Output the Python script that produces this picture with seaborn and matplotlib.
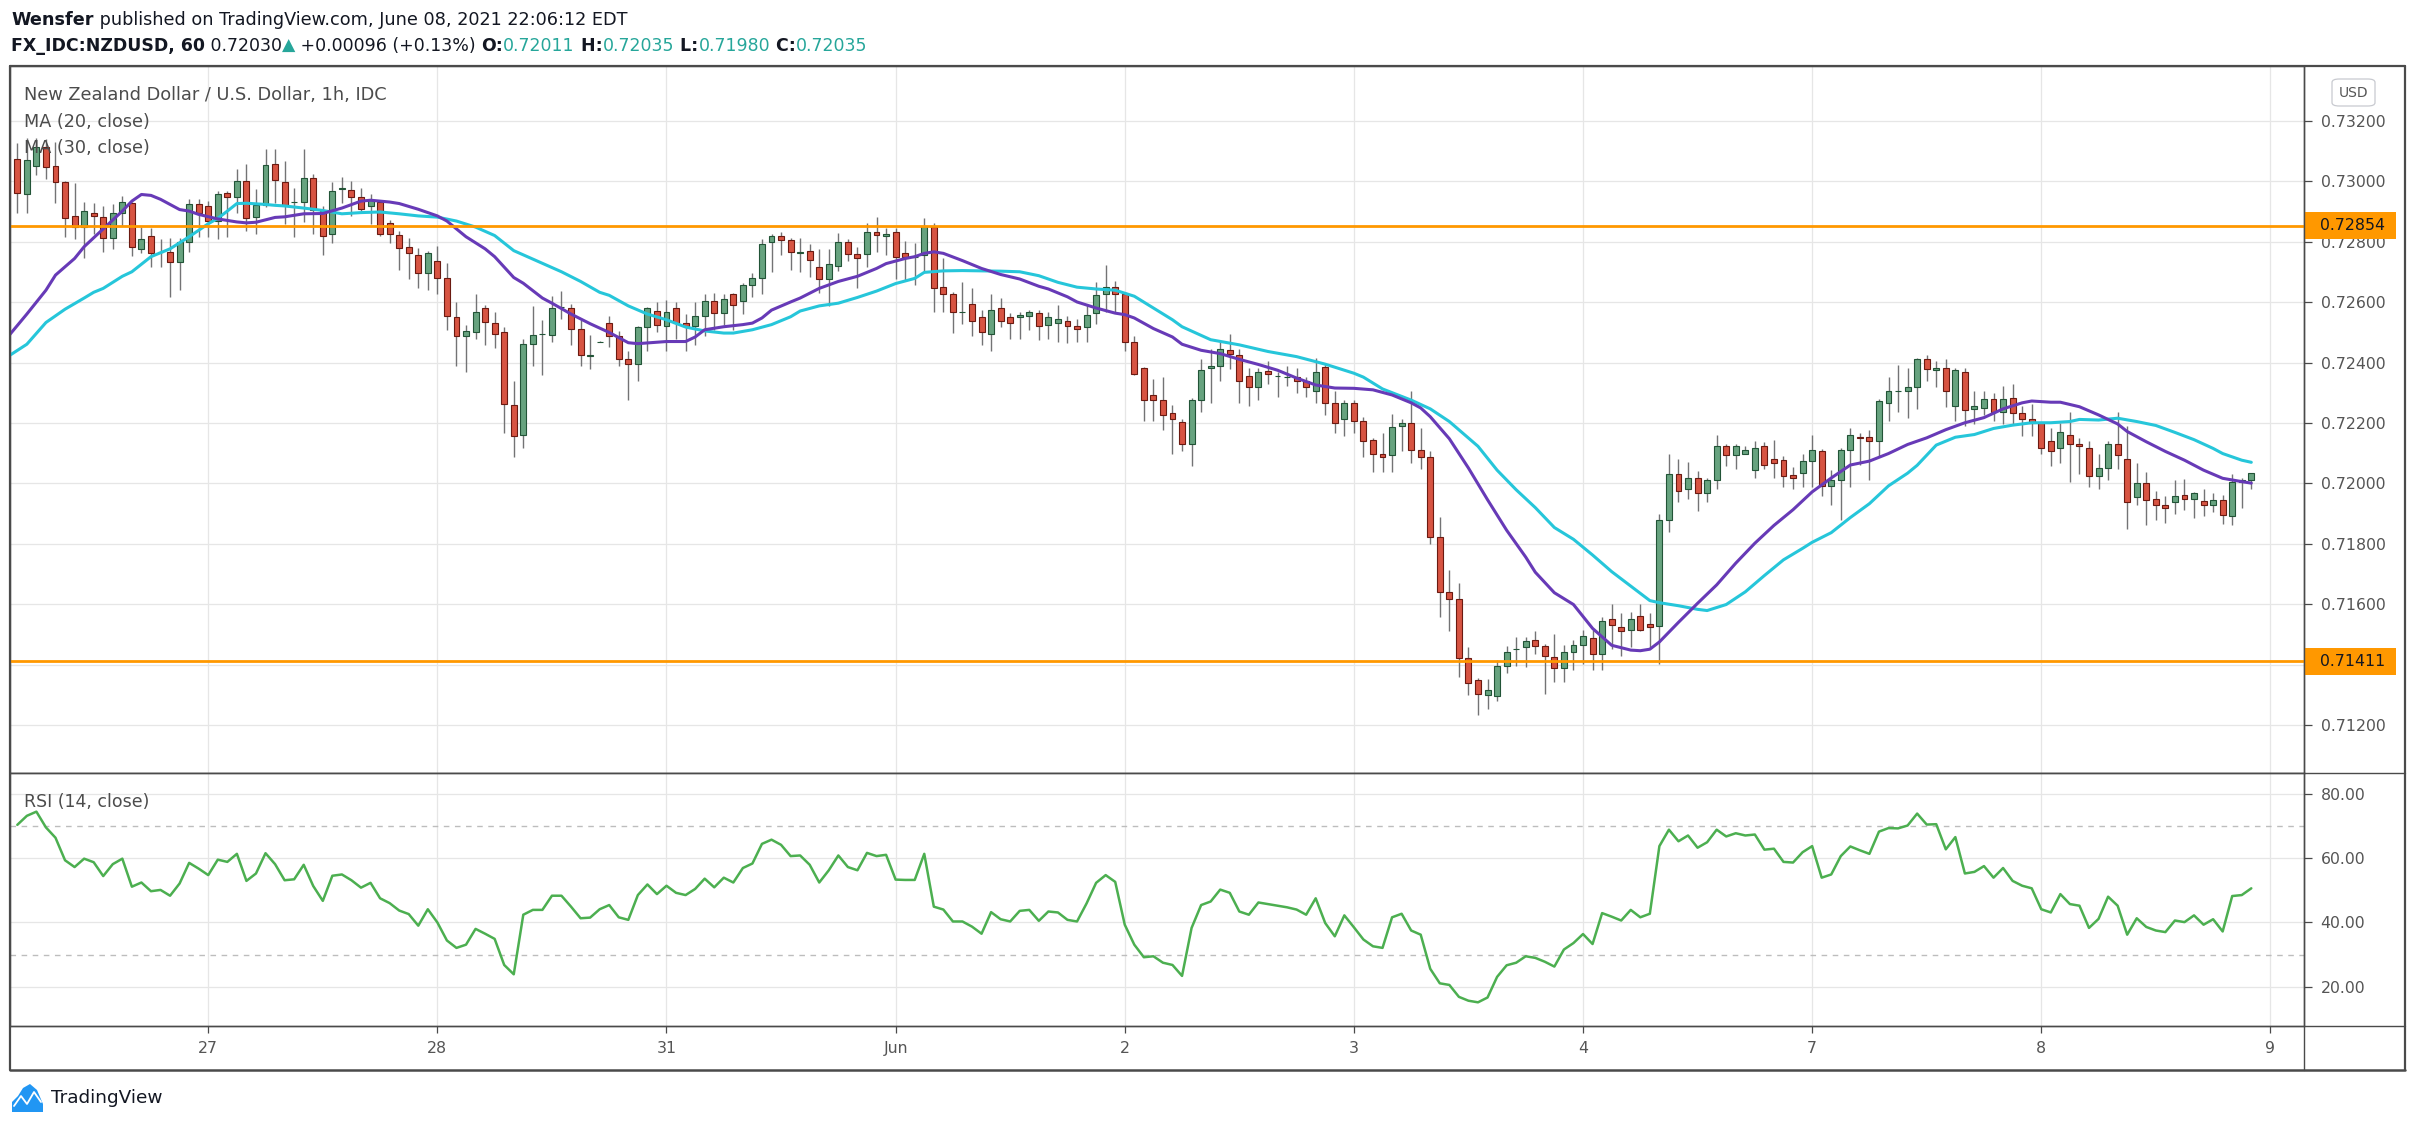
import numpy as np
import pandas as pd
import matplotlib
matplotlib.use("Agg")
import matplotlib.pyplot as plt
import seaborn as sns
from matplotlib.patches import Rectangle, FancyBboxPatch, Polygon
from matplotlib.lines import Line2D

# ---------------- data ----------------
opens = [
 0.73076, 0.72957, 0.73050, 0.73114, 0.73052, 0.72997, 0.72885, 0.72848, 0.72894, 0.72883,
 0.72814, 0.72894, 0.72928, 0.72777, 0.72818, 0.72767, 0.72767, 0.72732, 0.72801, 0.72924,
 0.72918, 0.72868, 0.72961, 0.72950, 0.73000, 0.72881, 0.72921, 0.73059, 0.72997, 0.72931,
 0.72931, 0.73012, 0.72903, 0.72825, 0.72974, 0.72973, 0.72950, 0.72918, 0.72933, 0.72861,
 0.72823, 0.72784, 0.72758, 0.72696, 0.72738, 0.72682, 0.72550, 0.72487, 0.72500, 0.72580,
 0.72533, 0.72502, 0.72261, 0.72161, 0.72461, 0.72496, 0.72493, 0.72585, 0.72582, 0.72513,
 0.72421, 0.72470, 0.72530, 0.72489, 0.72413, 0.72396, 0.72517, 0.72572, 0.72520, 0.72580,
 0.72533, 0.72520, 0.72556, 0.72603, 0.72565, 0.72627, 0.72603, 0.72656, 0.72682, 0.72801,
 0.72821, 0.72805, 0.72762, 0.72771, 0.72718, 0.72678, 0.72721, 0.72801, 0.72760, 0.72760,
 0.72834, 0.72818, 0.72834, 0.72764, 0.72749, 0.72758, 0.72848, 0.72649, 0.72629, 0.72569,
 0.72593, 0.72552, 0.72496, 0.72580, 0.72550, 0.72550, 0.72556, 0.72565, 0.72526, 0.72530,
 0.72539, 0.72520, 0.72517, 0.72563, 0.72626, 0.72649, 0.72627, 0.72470, 0.72381, 0.72294,
 0.72277, 0.72234, 0.72205, 0.72129, 0.72277, 0.72383, 0.72390, 0.72443, 0.72426, 0.72357,
 0.72320, 0.72374, 0.72357, 0.72351, 0.72354, 0.72340, 0.72307, 0.72387, 0.72268, 0.72212,
 0.72268, 0.72208, 0.72145, 0.72099, 0.72093, 0.72189, 0.72199, 0.72112, 0.72086, 0.71822,
 0.71640, 0.71616, 0.71423, 0.71350, 0.71299, 0.71295, 0.71395, 0.71451, 0.71458, 0.71480,
 0.71461, 0.71425, 0.71388, 0.71441, 0.71464, 0.71488, 0.71434, 0.71550, 0.71526, 0.71514,
 0.71561, 0.71534, 0.71527, 0.71880, 0.72030, 0.71980, 0.72019, 0.71969, 0.72013, 0.72123,
 0.72093, 0.72099, 0.72043, 0.72123, 0.72082, 0.72076, 0.72027, 0.72034, 0.72073, 0.72106,
 0.71993, 0.72010, 0.72110, 0.72155, 0.72153, 0.72140, 0.72268, 0.72307, 0.72305, 0.72320,
 0.72413, 0.72377, 0.72383, 0.72258, 0.72370, 0.72248, 0.72251, 0.72281, 0.72238, 0.72284,
 0.72234, 0.72212, 0.72201, 0.72142, 0.72116, 0.72162, 0.72129, 0.72119, 0.72023, 0.72052,
 0.72129, 0.72080, 0.71956, 0.72002, 0.71950, 0.71930, 0.71937, 0.71963, 0.71950, 0.71943,
 0.71930, 0.71946, 0.71892, 0.72006, 0.72011]

highs = [
 0.73128, 0.73144, 0.73144, 0.73140, 0.73130, 0.73000, 0.72995, 0.72932, 0.72928, 0.72919,
 0.72925, 0.72952, 0.72931, 0.72849, 0.72845, 0.72810, 0.72814, 0.72814, 0.72941, 0.72941,
 0.72935, 0.72970, 0.72970, 0.73041, 0.73058, 0.72974, 0.73109, 0.73109, 0.73067, 0.72980,
 0.73109, 0.73024, 0.72918, 0.72997, 0.73014, 0.73000, 0.72978, 0.72958, 0.72935, 0.72874,
 0.72836, 0.72814, 0.72781, 0.72771, 0.72788, 0.72729, 0.72601, 0.72525, 0.72627, 0.72590,
 0.72569, 0.72517, 0.72339, 0.72480, 0.72588, 0.72540, 0.72620, 0.72637, 0.72593, 0.72540,
 0.72491, 0.72472, 0.72553, 0.72506, 0.72440, 0.72523, 0.72584, 0.72601, 0.72607, 0.72601,
 0.72560, 0.72601, 0.72627, 0.72631, 0.72627, 0.72631, 0.72663, 0.72696, 0.72808, 0.72825,
 0.72834, 0.72814, 0.72814, 0.72794, 0.72777, 0.72777, 0.72831, 0.72808, 0.72784, 0.72864,
 0.72883, 0.72845, 0.72845, 0.72804, 0.72797, 0.72878, 0.72863, 0.72745, 0.72633, 0.72666,
 0.72646, 0.72573, 0.72627, 0.72614, 0.72563, 0.72567, 0.72576, 0.72576, 0.72567, 0.72590,
 0.72553, 0.72543, 0.72593, 0.72666, 0.72722, 0.72670, 0.72633, 0.72487, 0.72385, 0.72345,
 0.72352, 0.72261, 0.72214, 0.72282, 0.72412, 0.72446, 0.72467, 0.72495, 0.72446, 0.72383,
 0.72383, 0.72406, 0.72370, 0.72390, 0.72383, 0.72351, 0.72417, 0.72400, 0.72305, 0.72277,
 0.72277, 0.72221, 0.72152, 0.72166, 0.72231, 0.72214, 0.72305, 0.72182, 0.72108, 0.71888,
 0.71713, 0.71669, 0.71458, 0.71357, 0.71353, 0.71414, 0.71461, 0.71492, 0.71492, 0.71510,
 0.71468, 0.71501, 0.71464, 0.71481, 0.71514, 0.71514, 0.71557, 0.71600, 0.71570, 0.71574,
 0.71600, 0.71570, 0.71900, 0.72096, 0.72081, 0.72070, 0.72040, 0.72019, 0.72159, 0.72129,
 0.72129, 0.72123, 0.72140, 0.72136, 0.72144, 0.72090, 0.72056, 0.72099, 0.72159, 0.72114,
 0.72045, 0.72116, 0.72183, 0.72166, 0.72176, 0.72279, 0.72352, 0.72391, 0.72383, 0.72417,
 0.72425, 0.72406, 0.72413, 0.72381, 0.72381, 0.72307, 0.72307, 0.72301, 0.72322, 0.72328,
 0.72258, 0.72264, 0.72202, 0.72182, 0.72201, 0.72238, 0.72152, 0.72140, 0.72096, 0.72140,
 0.72238, 0.72189, 0.72069, 0.72039, 0.71976, 0.71959, 0.72012, 0.72016, 0.71970, 0.71983,
 0.71969, 0.71962, 0.72032, 0.72019, 0.72035]

lows = [
 0.72897, 0.72897, 0.73020, 0.73009, 0.72929, 0.72817, 0.72808, 0.72747, 0.72827, 0.72767,
 0.72777, 0.72852, 0.72754, 0.72764, 0.72717, 0.72717, 0.72618, 0.72639, 0.72767, 0.72817,
 0.72817, 0.72808, 0.72817, 0.72897, 0.72836, 0.72827, 0.72915, 0.72928, 0.72860, 0.72817,
 0.72866, 0.72827, 0.72758, 0.72797, 0.72928, 0.72887, 0.72903, 0.72860, 0.72820, 0.72797,
 0.72708, 0.72678, 0.72648, 0.72639, 0.72629, 0.72509, 0.72390, 0.72370, 0.72479, 0.72459,
 0.72449, 0.72167, 0.72089, 0.72117, 0.72390, 0.72360, 0.72470, 0.72546, 0.72459, 0.72390,
 0.72379, 0.72468, 0.72453, 0.72390, 0.72277, 0.72340, 0.72440, 0.72500, 0.72440, 0.72479,
 0.72440, 0.72459, 0.72489, 0.72509, 0.72526, 0.72509, 0.72560, 0.72618, 0.72629, 0.72699,
 0.72758, 0.72708, 0.72701, 0.72684, 0.72632, 0.72586, 0.72704, 0.72738, 0.72648, 0.72717,
 0.72767, 0.72758, 0.72678, 0.72669, 0.72658, 0.72704, 0.72568, 0.72568, 0.72498, 0.72529,
 0.72489, 0.72459, 0.72440, 0.72519, 0.72479, 0.72479, 0.72509, 0.72476, 0.72479, 0.72470,
 0.72466, 0.72470, 0.72470, 0.72529, 0.72569, 0.72569, 0.72440, 0.72360, 0.72208, 0.72208,
 0.72178, 0.72099, 0.72108, 0.72059, 0.72238, 0.72267, 0.72340, 0.72379, 0.72267, 0.72258,
 0.72277, 0.72330, 0.72286, 0.72323, 0.72301, 0.72286, 0.72267, 0.72227, 0.72167, 0.72158,
 0.72167, 0.72089, 0.72039, 0.72039, 0.72039, 0.72108, 0.72069, 0.72048, 0.71801, 0.71558,
 0.71510, 0.71359, 0.71299, 0.71232, 0.71252, 0.71278, 0.71372, 0.71395, 0.71391, 0.71435,
 0.71302, 0.71341, 0.71341, 0.71382, 0.71401, 0.71382, 0.71382, 0.71451, 0.71429, 0.71458,
 0.71510, 0.71456, 0.71401, 0.71840, 0.71940, 0.71950, 0.71909, 0.71940, 0.71980, 0.72059,
 0.72048, 0.72096, 0.72019, 0.72049, 0.72019, 0.71989, 0.71980, 0.71989, 0.71989, 0.71959,
 0.71929, 0.71880, 0.71989, 0.72060, 0.72010, 0.72090, 0.72208, 0.72238, 0.72218, 0.72247,
 0.72340, 0.72320, 0.72254, 0.72208, 0.72191, 0.72197, 0.72227, 0.72208, 0.72197, 0.72197,
 0.72158, 0.72158, 0.72099, 0.72059, 0.72069, 0.72006, 0.72030, 0.71989, 0.71980, 0.72010,
 0.72049, 0.71850, 0.71929, 0.71861, 0.71880, 0.71870, 0.71900, 0.71913, 0.71887, 0.71891,
 0.71907, 0.71867, 0.71861, 0.71920, 0.71980]

closes = [
 0.72963, 0.73072, 0.73114, 0.73047, 0.72997, 0.72878, 0.72848, 0.72903, 0.72887, 0.72814,
 0.72894, 0.72931, 0.72784, 0.72811, 0.72762, 0.72767, 0.72735, 0.72801, 0.72924, 0.72897,
 0.72868, 0.72957, 0.72950, 0.73000, 0.72878, 0.72921, 0.73056, 0.73004, 0.72921, 0.72931,
 0.73012, 0.72904, 0.72818, 0.72970, 0.72980, 0.72950, 0.72910, 0.72938, 0.72827, 0.72827,
 0.72781, 0.72762, 0.72696, 0.72762, 0.72682, 0.72553, 0.72489, 0.72506, 0.72569, 0.72534,
 0.72496, 0.72264, 0.72158, 0.72463, 0.72493, 0.72496, 0.72580, 0.72585, 0.72513, 0.72424,
 0.72426, 0.72470, 0.72489, 0.72413, 0.72396, 0.72517, 0.72580, 0.72526, 0.72569, 0.72533,
 0.72520, 0.72553, 0.72603, 0.72563, 0.72610, 0.72590, 0.72656, 0.72682, 0.72794, 0.72821,
 0.72805, 0.72768, 0.72768, 0.72741, 0.72678, 0.72728, 0.72801, 0.72760, 0.72747, 0.72834,
 0.72823, 0.72827, 0.72749, 0.72749, 0.72751, 0.72851, 0.72646, 0.72629, 0.72569, 0.72569,
 0.72539, 0.72500, 0.72576, 0.72539, 0.72530, 0.72559, 0.72567, 0.72523, 0.72550, 0.72543,
 0.72520, 0.72513, 0.72559, 0.72623, 0.72649, 0.72629, 0.72470, 0.72361, 0.72275, 0.72277,
 0.72227, 0.72214, 0.72129, 0.72277, 0.72377, 0.72390, 0.72446, 0.72430, 0.72340, 0.72320,
 0.72370, 0.72364, 0.72357, 0.72351, 0.72340, 0.72320, 0.72370, 0.72268, 0.72199, 0.72268,
 0.72208, 0.72140, 0.72099, 0.72086, 0.72186, 0.72199, 0.72112, 0.72086, 0.71822, 0.71642,
 0.71616, 0.71421, 0.71338, 0.71302, 0.71317, 0.71395, 0.71441, 0.71451, 0.71477, 0.71461,
 0.71427, 0.71388, 0.71441, 0.71464, 0.71494, 0.71434, 0.71545, 0.71531, 0.71510, 0.71550,
 0.71514, 0.71526, 0.71880, 0.72030, 0.71976, 0.72019, 0.71969, 0.72010, 0.72123, 0.72093,
 0.72123, 0.72110, 0.72119, 0.72060, 0.72069, 0.72023, 0.72019, 0.72073, 0.72110, 0.71993,
 0.72010, 0.72110, 0.72162, 0.72149, 0.72140, 0.72272, 0.72305, 0.72307, 0.72320, 0.72411,
 0.72378, 0.72383, 0.72307, 0.72377, 0.72244, 0.72255, 0.72281, 0.72238, 0.72281, 0.72234,
 0.72214, 0.72201, 0.72119, 0.72106, 0.72169, 0.72129, 0.72123, 0.72023, 0.72052, 0.72129,
 0.72093, 0.71940, 0.72002, 0.71946, 0.71930, 0.71920, 0.71960, 0.71950, 0.71969, 0.71930,
 0.71946, 0.71896, 0.72006, 0.72013, 0.72035]

# moving-average lines, read at sample bars
ma20_bars = [-1, 1, 3, 4, 6, 7, 9, 11, 12, 13, 14, 15, 16, 17, 18, 19, 21, 23, 24, 25, 27, 28, 30, 32,
             34, 36, 37, 39, 40, 42, 44, 45, 47, 49, 50, 52, 53, 55, 56, 58, 60, 62, 64, 65, 68, 70,
             71, 72, 74, 76, 77, 78, 79, 81, 82, 84, 86, 88, 90, 91, 93, 94, 95, 96, 97, 99, 101,
             103, 105, 107, 108, 110, 111, 113, 115, 116, 117, 119, 121, 122, 124, 126, 128, 130,
             132, 134, 136, 138, 140, 142, 144, 146, 147, 148, 150, 152, 154, 156, 158, 159, 161,
             163, 165, 167, 169, 170, 171, 172, 174, 176, 178, 180, 182, 184, 186, 188, 190, 192,
             194, 196, 198, 200, 202, 204, 206, 208, 210, 211, 213, 214, 216, 218, 220, 221, 223,
             225, 227, 229, 231, 233, 234]
ma20_vals = [0.72485, 0.72561, 0.72640, 0.72690, 0.72745, 0.72784, 0.72843, 0.72902, 0.72935, 0.72957,
             0.72954, 0.72941, 0.72924, 0.72907, 0.72902, 0.72891, 0.72876, 0.72866, 0.72863, 0.72865,
             0.72881, 0.72883, 0.72893, 0.72894, 0.72912, 0.72935, 0.72938, 0.72932, 0.72927, 0.72908,
             0.72886, 0.72869, 0.72817, 0.72777, 0.72751, 0.72682, 0.72663, 0.72614, 0.72597, 0.72561,
             0.72529, 0.72500, 0.72466, 0.72463, 0.72470, 0.72470, 0.72485, 0.72509, 0.72519, 0.72526,
             0.72531, 0.72548, 0.72574, 0.72601, 0.72614, 0.72646, 0.72669, 0.72686, 0.72712, 0.72728,
             0.72745, 0.72751, 0.72762, 0.72767, 0.72762, 0.72738, 0.72712, 0.72692, 0.72677, 0.72653,
             0.72644, 0.72618, 0.72601, 0.72581, 0.72564, 0.72559, 0.72548, 0.72513, 0.72485, 0.72461,
             0.72441, 0.72430, 0.72411, 0.72394, 0.72375, 0.72349, 0.72326, 0.72316, 0.72315, 0.72310,
             0.72293, 0.72267, 0.72250, 0.72221, 0.72148, 0.72051, 0.71946, 0.71845, 0.71756, 0.71706,
             0.71638, 0.71599, 0.71520, 0.71464, 0.71448, 0.71446, 0.71451, 0.71475, 0.71540, 0.71603,
             0.71664, 0.71736, 0.71802, 0.71861, 0.71913, 0.71972, 0.72018, 0.72061, 0.72074, 0.72099,
             0.72129, 0.72151, 0.72178, 0.72201, 0.72218, 0.72247, 0.72267, 0.72273, 0.72269, 0.72269,
             0.72254, 0.72227, 0.72197, 0.72172, 0.72138, 0.72106, 0.72077, 0.72044, 0.72017, 0.72006,
             0.72001]
ma30_bars = [-1, 1, 3, 5, 7, 8, 9, 11, 12, 14, 16, 18, 20, 21, 22, 23, 24, 26, 27, 28, 30, 32, 34, 36,
             38, 40, 42, 44, 46, 48, 50, 52, 55, 57, 59, 61, 62, 64, 66, 68, 70, 72, 74, 75, 77, 79,
             81, 82, 84, 86, 88, 90, 92, 94, 95, 97, 99, 101, 103, 105, 107, 109, 111, 113, 115, 117,
             119, 121, 122, 125, 128, 131, 134, 137, 140, 141, 143, 146, 148, 150, 153, 155, 157, 159,
             161, 163, 165, 167, 169, 171, 172, 174, 176, 177, 179, 181, 183, 185, 187, 188, 190, 192,
             194, 196, 198, 199, 201, 203, 205, 207, 209, 211, 213, 215, 216, 218, 220, 222, 224, 226,
             228, 230, 231, 233, 234]
ma30_vals = [0.72420, 0.72461, 0.72533, 0.72577, 0.72614, 0.72633, 0.72646, 0.72686, 0.72701, 0.72751,
             0.72777, 0.72817, 0.72860, 0.72878, 0.72902, 0.72927, 0.72928, 0.72924, 0.72921, 0.72919,
             0.72912, 0.72904, 0.72893, 0.72897, 0.72899, 0.72893, 0.72886, 0.72882, 0.72869, 0.72849,
             0.72821, 0.72771, 0.72729, 0.72701, 0.72669, 0.72633, 0.72623, 0.72588, 0.72561, 0.72542,
             0.72518, 0.72505, 0.72498, 0.72498, 0.72509, 0.72526, 0.72552, 0.72571, 0.72588, 0.72597,
             0.72616, 0.72637, 0.72662, 0.72679, 0.72699, 0.72704, 0.72705, 0.72704, 0.72703, 0.72701,
             0.72688, 0.72666, 0.72650, 0.72644, 0.72640, 0.72620, 0.72581, 0.72542, 0.72519, 0.72476,
             0.72459, 0.72437, 0.72420, 0.72395, 0.72365, 0.72352, 0.72313, 0.72276, 0.72247, 0.72205,
             0.72123, 0.72044, 0.71979, 0.71920, 0.71854, 0.71815, 0.71763, 0.71708, 0.71660, 0.71612,
             0.71605, 0.71595, 0.71583, 0.71579, 0.71599, 0.71641, 0.71695, 0.71747, 0.71785, 0.71805,
             0.71837, 0.71887, 0.71933, 0.71992, 0.72034, 0.72060, 0.72127, 0.72153, 0.72162, 0.72182,
             0.72193, 0.72201, 0.72201, 0.72205, 0.72212, 0.72210, 0.72216, 0.72205, 0.72192, 0.72169,
             0.72145, 0.72116, 0.72099, 0.72077, 0.72070]

rsi_vals = [
 70.3, 73.1, 74.4, 69.5, 66.3, 59.3, 57.2, 59.8, 58.7, 54.4, 58.1, 59.8, 51.1, 52.4, 49.7, 50.1,
 48.3, 52.1, 58.5, 56.7, 54.7, 59.5, 58.8, 61.3, 52.9, 55.2, 61.5, 58.1, 53.1, 53.4, 57.9, 51.3,
 46.7, 54.5, 54.9, 53.1, 50.8, 52.3, 47.5, 46.0, 43.7, 42.6, 39.0, 44.1, 40.0, 34.4, 32.1, 33.1,
 38.0, 36.5, 34.9, 26.8, 23.9, 42.4, 43.9, 43.9, 48.3, 48.3, 44.9, 41.3, 41.5, 44.1, 45.4, 41.6,
 40.8, 48.5, 51.8, 48.8, 51.4, 49.2, 48.5, 50.4, 53.6, 50.9, 53.9, 52.4, 56.9, 58.3, 64.4, 65.7,
 64.1, 60.6, 60.8, 57.9, 52.4, 56.2, 60.8, 57.2, 56.2, 61.6, 60.6, 61.0, 53.3, 53.2, 53.2, 61.3,
 44.9, 44.0, 40.3, 40.3, 38.7, 36.5, 43.2, 41.0, 40.3, 43.6, 43.9, 40.5, 43.4, 43.1, 40.8, 40.3,
 45.9, 52.3, 54.7, 52.6, 39.3, 33.1, 29.2, 29.5, 27.5, 26.8, 23.4, 38.3, 45.4, 46.5, 50.2, 49.2,
 43.4, 42.4, 46.2, 45.7, 45.2, 44.7, 44.0, 42.4, 47.5, 39.8, 35.7, 42.2, 38.5, 34.7, 32.6, 32.1,
 41.6, 42.7, 37.5, 36.2, 25.6, 21.1, 20.6, 16.9, 15.7, 15.2, 16.7, 23.1, 26.7, 27.5, 29.5, 29.0,
 27.8, 26.3, 31.6, 33.6, 36.4, 33.3, 42.9, 41.8, 40.6, 43.9, 41.6, 42.7, 63.7, 68.8, 65.2, 67.0,
 63.2, 64.9, 68.8, 66.7, 67.7, 67.0, 67.3, 62.6, 62.9, 58.8, 58.6, 61.8, 63.7, 53.9, 54.9, 60.6,
 63.6, 62.4, 61.3, 68.2, 69.3, 69.2, 70.1, 73.8, 70.4, 70.5, 62.7, 66.5, 55.2, 55.7, 57.5, 53.9,
 56.9, 52.9, 51.4, 50.6, 44.1, 43.1, 48.8, 45.7, 45.2, 38.3, 41.1, 48.0, 45.2, 36.2, 41.3, 38.6,
 37.5, 37.0, 40.6, 40.1, 42.2, 39.3, 41.0, 37.2, 48.2, 48.5, 50.6]

day_bars = [20, 44, 68, 92, 116, 140, 164, 188, 212, 236]
day_labels = ["27", "28", "31", "Jun", "2", "3", "4", "7", "8", "9"]
price_ticks = [0.712, 0.714, 0.716, 0.718, 0.720, 0.722, 0.724, 0.726, 0.728, 0.730, 0.732]
rsi_ticks = [20, 40, 60, 80]
level_lines = [0.72854, 0.71411]

# ---------------- style ----------------
sns.set_theme(style="white")
plt.rcParams['font.family'] = ['DejaVu Sans']

W, H = 2415, 1127
DPI = 100
fig = plt.figure(figsize=(W / DPI, H / DPI), dpi=DPI)
fig.patch.set_facecolor('white')

TXT = '#131722'
AX = '#4a4a4a'
GRID = '#e6e6e6'
TEAL = '#26a69a'

L, R = 10, 2304
PT, PB, RB = 66, 773, 1026

def fxy(px, py):
    return px / W, 1 - py / H

ax = fig.add_axes([L / W, 1 - PB / H, (R - L) / W, (PB - PT) / H])
axr = fig.add_axes([L / W, 1 - RB / H, (R - L) / W, (RB - PB) / H], sharex=ax)

xmin, xmax = -0.765, 239.52
ax.set_xlim(xmin, xmax)
ax.set_ylim(0.71041, 0.733825)
axr.set_ylim(7.85, 86.4)

# candles
df = pd.DataFrame({'o': opens, 'h': highs, 'l': lows, 'c': closes})
df['x'] = np.arange(len(df))
up = df['c'] >= df['o']
bottom = np.minimum(df['o'], df['c'])
height = (df['c'] - df['o']).abs()
ax.vlines(df['x'], df['l'], df['h'], color='#737375', lw=1.0, zorder=2)
ax.bar(df['x'][up], height[up], bottom=bottom[up], width=0.62, color='#67a37f',
       edgecolor='#225437', lw=0.8, zorder=3)
ax.bar(df['x'][~up], height[~up], bottom=bottom[~up], width=0.62, color='#d75442',
       edgecolor='#6b1a11', lw=0.8, zorder=3)

# moving averages
sns.lineplot(x=ma30_bars, y=ma30_vals, ax=ax, color='#26c6da', linewidth=2.2,
             estimator=None, sort=False, legend=False, zorder=4)
sns.lineplot(x=ma20_bars, y=ma20_vals, ax=ax, color='#673ab7', linewidth=2.2,
             estimator=None, sort=False, legend=False, zorder=4)

for lv in level_lines:
    ax.axhline(lv, color='#ff9800', lw=2.0, zorder=5)

# RSI
sns.lineplot(x=np.arange(len(rsi_vals)), y=rsi_vals, ax=axr, color='#4caf50', linewidth=1.8,
             estimator=None, sort=False, legend=False, zorder=4)
for lv in (70, 30):
    axr.axhline(lv, color='#bdbdbd', lw=1.0, ls=(0, (4, 4)), zorder=1)

# grids / ticks
for a in (ax, axr):
    a.set_facecolor('white')
    a.set_xticks(day_bars)
    a.grid(True, color=GRID, lw=0.9, zorder=0)
    a.set_axisbelow(True)
    for s in a.spines.values():
        s.set_color(AX)
        s.set_linewidth(1.0)
    a.yaxis.tick_right()
    a.tick_params(axis='y', which='both', right=True, left=False, direction='out', length=6,
                  width=0.9, color=AX, pad=6, labelsize=11.3, labelcolor='#555555')
    a.set_xlabel('')
    a.set_ylabel('')

ax.set_yticks(price_ticks)
ax.set_yticklabels([f"{v:.5f}" for v in price_ticks])
axr.set_yticks(rsi_ticks)
axr.set_yticklabels([f"{v:.2f}" for v in rsi_ticks])
ax.tick_params(axis='x', length=0, labelbottom=False)
axr.set_xticklabels(day_labels)
axr.tick_params(axis='x', bottom=True, direction='out', length=5, width=0.9, color=AX,
                pad=6, labelsize=11.3, labelcolor='#555555')

# level labels on the price scale
ytr = ax.get_yaxis_transform()
pix_per_price = (PB - PT) / (0.733825 - 0.71041)
for lv in level_lines:
    hh = 27 / pix_per_price
    ax.add_patch(Rectangle((1.0, lv - hh / 2), 92 / (R - L), hh, transform=ytr,
                           facecolor='#ff9800', edgecolor='none', clip_on=False, zorder=10))
    ax.text(1.0 + 16 / (R - L), lv, f"{lv:.5f}", transform=ytr, va='center', ha='left',
            fontsize=11.3, color=TXT, clip_on=False, zorder=11)

# frame lines
def fline(x0, y0, x1, y1, lw=1.0):
    a0 = fxy(x0, y0); a1 = fxy(x1, y1)
    fig.add_artist(Line2D([a0[0], a1[0]], [a0[1], a1[1]], color=AX, lw=lw,
                          transform=fig.transFigure))

fline(L, PT, 2405, PT, 1.6)
fline(L, 1070, 2405, 1070, 1.8)
fline(L, PT, L, 1070, 1.6)
fline(2405, PT, 2405, 1070, 1.6)
fline(R, PT, R, 1070, 1.0)
fline(L, PB, 2405, PB, 1.0)
fline(L, RB, 2405, RB, 1.0)

# USD box
ux, uy = fxy(2332, 106)
fig.add_artist(FancyBboxPatch((ux, uy), 43 / W, 27 / H, boxstyle="round,pad=0,rounding_size=0.003",
                              transform=fig.transFigure, facecolor='white', edgecolor='#c8cad0', lw=0.9))
fig.text(*fxy(2353.5, 93), "USD", fontsize=10, color='#555555', ha='center', va='center')

# header text runs
renderer = fig.canvas.get_renderer()
def runs(x_px, y_px, parts, size):
    x = x_px
    for txt, color, weight in parts:
        t = fig.text(*fxy(x, y_px), txt, color=color, fontsize=size, fontweight=weight,
                     ha='left', va='center')
        x += t.get_window_extent(renderer=renderer).width

runs(11, 20, [("Wensfer", TXT, 'bold'),
              (" published on TradingView.com, June 08, 2021 22:06:12 EDT", TXT, 'normal')], 12.7)
runs(11, 46, [("FX_IDC:NZDUSD, 60", TXT, 'bold'), (" 0.72030", TXT, 'normal'),
              ("\u25b2", TEAL, 'normal'), (" +0.00096 (+0.13%) ", TXT, 'normal'),
              ("O:", TXT, 'bold'), ("0.72011", TEAL, 'normal'),
              (" H:", TXT, 'bold'), ("0.72035", TEAL, 'normal'),
              (" L:", TXT, 'bold'), ("0.71980", TEAL, 'normal'),
              (" C:", TXT, 'bold'), ("0.72035", TEAL, 'normal')], 12.5)

LEG = '#4c4c4c'
fig.text(*fxy(24, 95), "New Zealand Dollar / U.S. Dollar, 1h, IDC", fontsize=12.8, color=LEG, va='center')
fig.text(*fxy(24, 122), "MA (20, close)", fontsize=12.7, color=LEG, va='center')
fig.text(*fxy(24, 148), "MA (30, close)", fontsize=12.7, color=LEG, va='center')
fig.text(*fxy(24, 802), "RSI (14, close)", fontsize=12.5, color=LEG, va='center')

# TradingView logo
lx0, ly0 = 12, 1112
logo_pts = [fxy(lx0 + dx, ly0 - dy) for dx, dy in
            [(0, 0), (31, 0), (31, 8), (25, 22), (18, 28), (11, 24), (6, 16), (0, 10)]]
fig.add_artist(Polygon(logo_pts, closed=True, transform=fig.transFigure, facecolor='#2196f3',
                       edgecolor='none'))
zz = [fxy(lx0 + dx, ly0 - dy) for dx, dy in [(2, 6), (9, 16), (15, 8), (22, 20), (29, 10)]]
fig.add_artist(Line2D([p[0] for p in zz], [p[1] for p in zz], color='white', lw=1.3,
                      transform=fig.transFigure))
fig.text(*fxy(51, 1098), "TradingView", fontsize=13.3, color=TXT, va='center', ha='left')

fig.savefig('out.png', dpi=DPI, facecolor='white')
